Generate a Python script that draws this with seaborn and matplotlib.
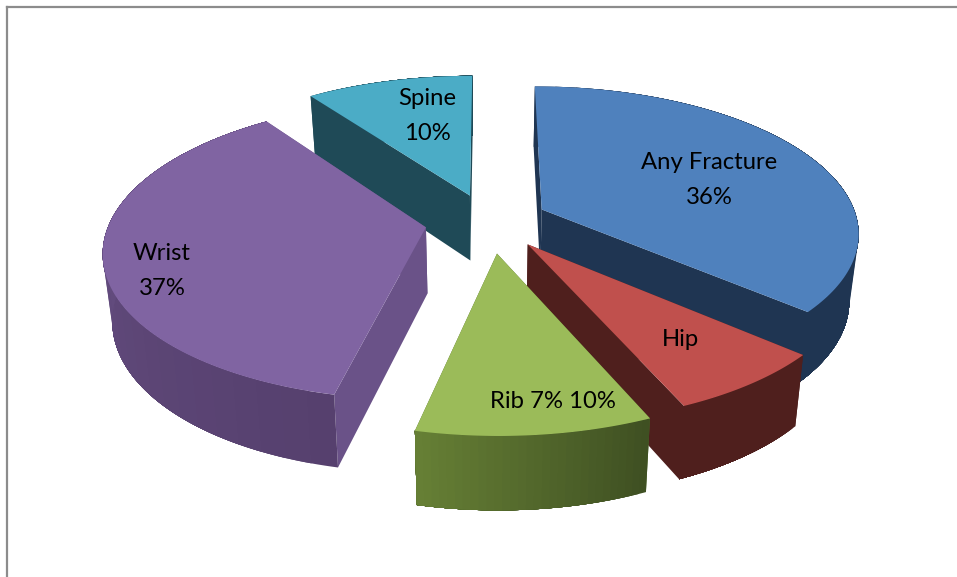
import numpy as np
import pandas as pd
import matplotlib
matplotlib.use("Agg")
import matplotlib.pyplot as plt
import seaborn as sns

# ---- data ----
categories = ["Any Fracture", "Hip", "Rib", "Wrist", "Spine"]
values = [36, 7, 10, 37, 10]
labels = ["Any Fracture\n36%", "Hip", "Rib 7% 10%", "Wrist\n37%", "Spine\n10%"]

# ---- style ----
top_colors = ["#4F81BD", "#C0504D", "#9BBB59", "#8064A2", "#4BACC6"]
wall_start = ["#1F3552", "#4F1F1D", "#667F35", "#6B5389", "#1F4A57"]
wall_end = ["#1F3552", "#4F1F1D", "#3F5022", "#56406E", "#1F4A57"]
cut_colors = ["#1F3552", "#4F1F1D", "#4F6A2A", "#6A5288", "#1F4A57"]
explode = [0.19, 0.20, 0.22, 0.20, 0.19]
label_xy = [(709, 180), (681, 339), (553, 401), (162, 271), (427, 116)]
draw_order = ["Spine", "Any Fracture", "Wrist", "Hip", "Rib"]

CX, CY = 488, 221      # pie centre in pixels
A, B = 316, 144.5      # projected radii
K = 0.1486             # perspective strength
DEPTH = 66             # wall height at the pie's middle
VANISH = 0.975         # lower rim shrinks slightly towards the centre
SKEW = np.deg2rad(1.8) # the near side of the pie is turned a little clockwise

sns.set_theme(style="white")
plt.rcParams["font.family"] = ["Lato", "DejaVu Sans"]

df = pd.DataFrame({"category": categories, "value": values, "label": labels,
                   "top": top_colors, "w0": wall_start, "w1": wall_end,
                   "cut": cut_colors, "explode": explode})
total = df["value"].sum()
df["start"] = df["value"].cumsum().shift(fill_value=0) / total * 2 * np.pi
df["end"] = df["value"].cumsum() / total * 2 * np.pi
df["mid"] = (df["start"] + df["end"]) / 2

fig = plt.figure(figsize=(9.57, 5.77), dpi=100, facecolor="white")
ax = fig.add_axes([6.5 / 957, 0, 950.5 / 957, 570.5 / 577])
ax.set_xlim(6.5, 957)
ax.set_ylim(577, 6.5)
ax.set_xticks([])
ax.set_yticks([])
sns.despine(ax=ax, top=False, left=False, right=True, bottom=True)
for side in ("top", "left"):
    ax.spines[side].set_color("#8C8C8C")
    ax.spines[side].set_linewidth(1.6)


def project(X, Y):
    s = 1 / (1 - K * Y)
    return CX + A * X * s, CY + B * Y * s, s


def lower(x, y, s):
    return CX + (x - CX) * VANISH, y + DEPTH * s ** 0.6


def poly(xs, ys, color, z):
    ax.fill(xs, ys, facecolor=color, edgecolor="none", zorder=z)


for z, name in enumerate(draw_order):
    row = df[df["category"] == name].iloc[0]
    z0 = 10 * (z + 1)
    ox, oy = row["explode"] * np.sin(row["mid"]), -row["explode"] * np.cos(row["mid"])
    apx, apy, aps = project(ox, oy)
    abx, aby = lower(apx, apy, aps)
    th = np.linspace(row["start"], row["end"], 121)
    th = th + SKEW * (1 - np.cos(th)) / 2
    rx, ry, s = project(ox + np.sin(th), oy - np.cos(th))
    bx, by = lower(rx, ry, s)

    # the two cut faces
    for i in (0, -1):
        poly([apx, rx[i], bx[i], abx], [apy, ry[i], by[i], aby], row["cut"], z0)

    # curved outer wall: each band overpaints the rest, so no seams appear
    n_bands = 30
    ramp = sns.blend_palette([row["w0"], row["w1"]], n_colors=n_bands)
    if name in ("Rib", "Wrist"):
        ramp = ramp[::-1]       # darker towards the viewer's right
    edges = np.linspace(0, len(th) - 1, n_bands + 1).astype(int)
    for b in range(n_bands):
        j = edges[b]
        poly(np.r_[rx[j:], bx[j:][::-1]], np.r_[ry[j:], by[j:][::-1]], ramp[b], z0 + 1)

    # top face
    poly(np.r_[apx, rx], np.r_[apy, ry], row["top"], z0 + 2)

for text, (x, y) in zip(df["label"], label_xy):
    ax.text(x, y, text, ha="center", va="center", fontsize=17.2, color="black",
            linespacing=1.84, zorder=200)

fig.savefig("out.png", dpi=100)
